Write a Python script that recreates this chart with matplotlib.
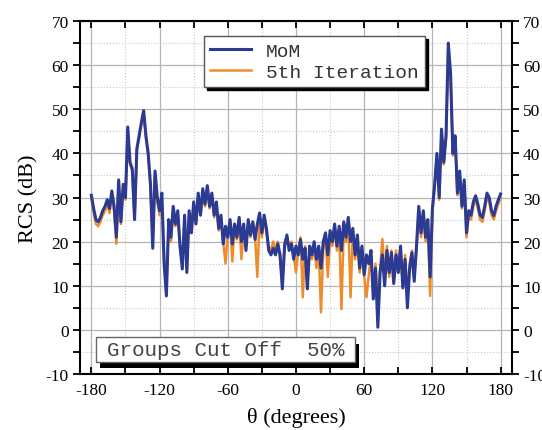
import matplotlib.pyplot as plt
import numpy as np
from matplotlib.patches import Rectangle
from matplotlib.ticker import MultipleLocator

plt.rcParams['axes.unicode_minus'] = False

# scattering angle, 2 degree steps
theta = np.arange(-180, 181, 2)

mom = [
    30.5, 27.5, 25, 24.5, 25.5, 27, 28, 29.5, 27.5, 31.5,      # -180..-162
    28, 21, 34, 24.5, 33, 30, 46, 38, 36.5, 25,                # -160..-142
    41, 44, 47, 49.7, 44, 40, 33, 18.5, 36, 30,                # -140..-122
    27, 31, 15, 7.7, 25, 21, 28, 24, 27, 19,                   # -120..-102
    13.8, 26, 13, 27, 22, 29, 24, 31, 26, 32,                  # -100..-82
    28.5, 32.7, 28, 31, 26, 29, 23, 26, 19.5, 23.5,            # -80..-62
    21, 25, 19.5, 24, 21, 25.5, 20, 24, 18, 25,                # -60..-42
    21.5, 24.5, 20.5, 24, 26.5, 22, 26, 23, 18, 17,            # -40..-22
    18.5, 17, 19.5, 17, 9.3, 19, 21.5, 18, 19.5, 16,           # -20..-2
    19, 17, 20.5, 16, 18.5, 9.3, 19, 17, 20, 16,               # 0..18
    19, 14, 20, 22, 17, 22.5, 20, 24, 19, 23.5,                # 20..38
    18, 24.5, 21, 25.5, 20, 23, 17, 21.5, 14, 19,              # 40..58
    12.5, 17, 15, 18, 7, 14, 0.6, 13, 17, 10,                  # 60..78
    18, 13, 17.5, 10.5, 17, 13, 19, 9.5, 16, 5,                # 80..98
    14, 17.5, 11, 19, 28, 22, 27, 21, 25, 12,                  # 100..118
    27.4, 33, 40, 30, 45.5, 38, 44, 65, 58, 40,                # 120..138
    44, 31, 36, 28, 34, 22, 27, 26, 29, 30.4,                  # 140..158
    28.5, 26, 25.5, 28, 31, 30, 27, 25.9, 28, 29.5,            # 160..178
    30.8,                                                      # 180
]

iter5 = [
    30, 26.5, 24, 23.5, 24.5, 26, 27, 28.5, 26.5, 30.5,
    27, 19.5, 33, 24, 32.5, 29.5, 45.5, 37.5, 36, 25,
    40.5, 43.5, 46.5, 49, 43.5, 39.5, 32, 20, 35, 29,
    26, 30, 16, 9, 24, 20, 27, 23.5, 26, 18.5,
    15, 25.5, 14, 26.5, 22, 28.5, 24, 30.5, 26, 31.5,
    28, 32, 27.5, 30.5, 25.5, 28.5, 22.5, 25, 20, 15,
    22, 24.5, 15.5, 23.5, 20.5, 25, 16, 23, 19, 24,
    21, 24, 21, 12, 25.5, 21, 25, 22, 19, 18,
    20, 18, 20, 16, 11, 20, 21, 19, 20, 17,
    13, 18, 21, 7.4, 19, 10.5, 18, 16, 19, 14,
    18, 4, 18, 21, 12, 21, 19, 23, 18, 22,
    4.7, 23, 20, 24, 7.4, 22, 16, 20, 13, 18,
    12, 7.4, 12.4, 17, 9, 15, 3, 14, 20.6, 12,
    19, 12, 18, 11, 18, 14, 18, 10, 17, 7,
    15, 18, 12, 18, 27, 21, 26, 20, 24, 7.7,
    27, 32.5, 39.5, 29.5, 45, 37.5, 43.5, 64.5, 57.5, 39.5,
    43.5, 30.5, 35.5, 27.5, 33.5, 21, 26, 25, 28, 29.5,
    27.5, 25, 24.5, 27, 30, 29, 26, 25, 27, 28.5,
    30,
]

blue = '#2b3a92'
orange = '#ee8c2c'

fig = plt.figure(figsize=(5.42, 4.31), dpi=100)
ax = fig.add_axes([0.1476, 0.1299, 0.797, 0.819])

l2, = ax.plot(theta, iter5, color=orange, lw=1.8, zorder=3)
l1, = ax.plot(theta, mom, color=blue, lw=2.2, zorder=4)

ax.set_xlim(-190, 190)
ax.set_ylim(-10, 70)
ax.xaxis.set_major_locator(MultipleLocator(60))
ax.xaxis.set_minor_locator(MultipleLocator(30))
ax.yaxis.set_major_locator(MultipleLocator(10))
ax.yaxis.set_minor_locator(MultipleLocator(5))
ax.grid(True, which='major', color='#b5b5b5', lw=0.9)
ax.grid(True, which='minor', color='#c8c8c8', lw=0.8, ls=':')
ax.set_axisbelow(True)

ax.tick_params(axis='x', which='both', direction='in', top=True, bottom=True,
               length=5, width=1.3, labelsize=12.5, pad=6)
ax.tick_params(axis='y', which='both', direction='out', left=True, right=True,
               labelleft=True, labelright=True, length=5, width=1.3,
               labelsize=12.5, pad=3)
for lab in ax.get_xticklabels() + ax.get_yticklabels():
    lab.set_fontfamily('Liberation Serif')
for sp in ax.spines.values():
    sp.set_linewidth(1.5)

ax.set_xlabel('θ (degrees)', fontsize=16, family='Liberation Serif', labelpad=6)
ax.set_ylabel('RCS (dB)', fontsize=16, family='Liberation Serif', labelpad=5)

leg = ax.legend([l1, l2], ['MoM', '5th Iteration'], loc='upper left',
                bbox_to_anchor=(0.287, 0.957), borderaxespad=0,
                prop={'family': 'Liberation Mono', 'size': 14},
                fancybox=False, framealpha=1, edgecolor='#555555',
                shadow={'color': 'black', 'alpha': 1}, handlelength=2.1,
                handletextpad=0.8, borderpad=0.3, labelspacing=0.2)
leg.get_frame().set_linewidth(1.0)
leg.set_zorder(6)
for t in leg.get_texts():
    t.set_color('#333333')

# "Groups Cut Off" box with black drop shadow
ax.add_patch(Rectangle((0.046, 0.016), 0.60, 0.07, transform=ax.transAxes,
                       facecolor='black', edgecolor='none', zorder=6))
ax.add_patch(Rectangle((0.037, 0.034), 0.60, 0.071, transform=ax.transAxes,
                       facecolor='white', edgecolor='#666666', lw=1.0, zorder=7))
ax.text(0.337, 0.069, 'Groups Cut Off  50%', transform=ax.transAxes,
        ha='center', va='center', family='Liberation Mono', fontsize=15,
        color='#444444', zorder=8)

fig.savefig('out.png', dpi=100)
